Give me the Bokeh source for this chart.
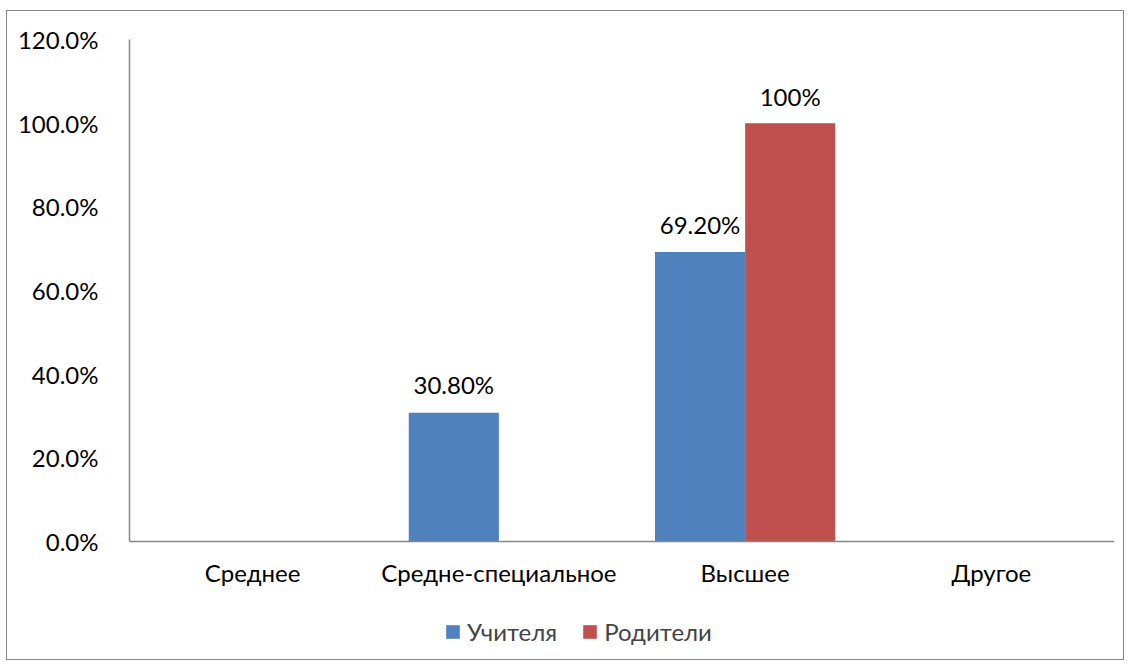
from bokeh.plotting import figure
from bokeh.models import ColumnDataSource, NumeralTickFormatter, Legend, LegendItem, FixedTicker, Range1d, Span
from bokeh.transform import dodge
from bokeh.core.properties import value
from bokeh.embed import file_html
from bokeh.resources import INLINE

categories = ["Среднее", "Средне-специальное", "Высшее", "Другое"]
teachers = [0.0, 0.308, 0.692, 0.0]
parents = [0.0, 0.0, 1.0, 0.0]
teacher_labels = ["", "30.80%", "69.20%", ""]
parent_labels = ["", "", "100%", ""]
y_ticks = [0.0, 0.2, 0.4, 0.6, 0.8, 1.0, 1.2]

FONT = "Lato"
FS = "24px"
AXIS_COLOR = "#868686"
src = ColumnDataSource(dict(cat=categories, t=teachers, p=parents, tl=teacher_labels, pl=parent_labels,
                            zero=[0.0] * len(categories)))

# frame height 617 px, of which 502 px cover 0..1.2
y_min = -(617 - 502) / (502 / 1.2)
p = figure(x_range=categories, y_range=Range1d(y_min, 1.2), width=1118, height=650,
           output_backend="svg", toolbar_location=None,
           min_border_left=122, min_border_right=11, min_border_top=28, min_border_bottom=5)
p.outline_line_color = None
p.border_fill_color = "white"
p.background_fill_color = "white"

bw = 0.366
r1 = p.vbar(x=dodge("cat", -bw / 2, range=p.x_range), top="t", width=bw, source=src,
            fill_color="#4F81BD", line_color=None)
r2 = p.vbar(x=dodge("cat", bw / 2, range=p.x_range), top="p", width=bw, source=src,
            fill_color="#C0504D", line_color=None)

p.text(x=dodge("cat", -bw / 2, range=p.x_range), y="t", text="tl", source=src,
       text_align="center", text_baseline="middle", y_offset=-28,
       text_font=value(FONT), text_font_size=FS, text_color="black")
p.text(x=dodge("cat", bw / 2, range=p.x_range), y="p", text="pl", source=src,
       text_align="center", text_baseline="middle", y_offset=-27,
       text_font=value(FONT), text_font_size=FS, text_color="black")

# category axis (drawn at zero inside the frame)
p.add_layout(Span(location=0, dimension="width", line_color=AXIS_COLOR, line_width=1.5))
p.text(x="cat", y="zero", text="cat", source=src, text_align="center", text_baseline="middle",
       y_offset=31, text_font=value(FONT), text_font_size=FS, text_color="black")
p.xaxis.visible = False

p.xgrid.grid_line_color = None
p.ygrid.grid_line_color = None

p.yaxis.ticker = FixedTicker(ticks=y_ticks)
p.yaxis.formatter = NumeralTickFormatter(format="0.0%")
p.yaxis.bounds = (0, 1.2)
p.yaxis.axis_line_color = AXIS_COLOR
p.yaxis.axis_line_width = 1.5
p.yaxis.major_tick_line_color = None
p.yaxis.minor_tick_line_color = None
p.yaxis.major_label_text_font = FONT
p.yaxis.major_label_text_font_size = FS
p.yaxis.major_label_text_color = "black"
p.yaxis.major_label_standoff = 25

legend = Legend(items=[LegendItem(label="Учителя", renderers=[r1]),
                       LegendItem(label="Родители", renderers=[r2])],
                orientation="horizontal", location=(315, 10),
                label_text_font=FONT, label_text_font_size=FS,
                glyph_width=17, glyph_height=17, spacing=24, label_standoff=6,
                padding=0, margin=0,
                border_line_color=None, background_fill_alpha=0)
p.add_layout(legend, "center")

p.styles = {"border": "1.5px solid #868686", "margin-left": "6px", "margin-top": "10px"}

open("out.html", "w").write(file_html(p, INLINE))
